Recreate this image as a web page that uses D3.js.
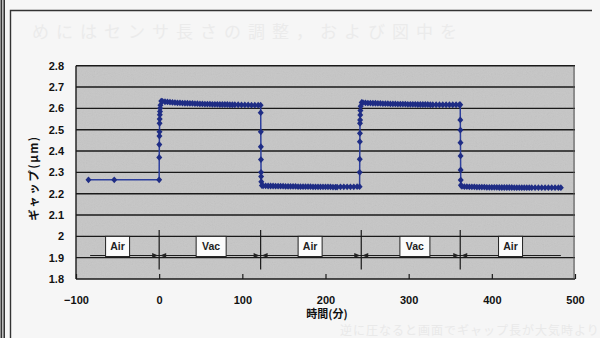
<!DOCTYPE html>
<html>
<head>
<meta charset="utf-8">
<script src="https://cdn.jsdelivr.net/npm/d3@7"></script>
<style>
  body { margin: 0; background: #f6f6f6; }
  svg { display: block; }
  .tick text { font-family: "Liberation Sans", Arial, sans-serif; font-weight: bold; font-size: 11px; fill: #111; }
</style>
</head>
<body>
<div id="chart"></div>
<script>
const width = 600;
const height = 338;

// time (min) and gap (um), one pair of arrays per phase
const airT0 = [-85, -54, 0];
const airG0 = [2.265, 2.265, 2.265];

const vacT1 = [0.1, 0.2, 0.3, 0.4, 0.5, 0.6, 0.8, 1, 1.2, 1.5, 2.5, 4, 7, 10, 13, 16, 19, 22, 25, 28, 31, 34, 37, 40, 43, 46, 49, 52, 55, 58, 61, 64, 67, 70, 73, 76, 79, 82, 85, 88, 91, 95, 99, 103, 107, 111, 115, 119, 122];
const vacG1 = [2.37, 2.43, 2.47, 2.49, 2.53, 2.55, 2.57, 2.585, 2.60, 2.615, 2.634, 2.633, 2.631, 2.630, 2.629, 2.628, 2.627, 2.626, 2.626, 2.625, 2.624, 2.624, 2.623, 2.623, 2.622, 2.622, 2.621, 2.621, 2.620, 2.620, 2.620, 2.619, 2.619, 2.619, 2.618, 2.618, 2.618, 2.618, 2.617, 2.617, 2.617, 2.617, 2.616, 2.616, 2.616, 2.615, 2.615, 2.615, 2.615];

const airT2 = [122.1, 122.2, 122.3, 122.4, 122.5, 122.6, 122.8, 123.5, 125, 128, 131, 134, 137, 140, 143, 146, 149, 152, 155, 158, 161, 164, 167, 170, 173, 176, 179, 182, 185, 188, 191, 194, 197, 200, 203, 206, 209, 212, 214, 218, 222, 226, 230, 234, 238, 241];
const airG2 = [2.58, 2.49, 2.42, 2.36, 2.30, 2.28, 2.256, 2.238, 2.237, 2.237, 2.236, 2.236, 2.236, 2.235, 2.235, 2.235, 2.235, 2.234, 2.234, 2.234, 2.234, 2.234, 2.233, 2.233, 2.233, 2.233, 2.233, 2.233, 2.232, 2.232, 2.232, 2.232, 2.232, 2.232, 2.232, 2.232, 2.231, 2.231, 2.231, 2.232, 2.232, 2.232, 2.232, 2.232, 2.233, 2.233];

const vacT3 = [241.1, 241.2, 241.3, 241.4, 241.5, 241.6, 241.8, 242, 242.3, 243.5, 245, 248, 251, 254, 257, 260, 263, 266, 269, 272, 275, 278, 281, 284, 287, 290, 293, 296, 299, 302, 305, 308, 311, 314, 317, 320, 323, 326, 329, 333, 337, 341, 345, 349, 353, 357, 361, 362];
const vacG3 = [2.30, 2.362, 2.444, 2.483, 2.53, 2.546, 2.569, 2.59, 2.61, 2.628, 2.627, 2.626, 2.625, 2.625, 2.624, 2.624, 2.623, 2.623, 2.622, 2.622, 2.622, 2.621, 2.621, 2.621, 2.620, 2.620, 2.620, 2.620, 2.619, 2.619, 2.619, 2.619, 2.618, 2.618, 2.618, 2.618, 2.618, 2.617, 2.617, 2.617, 2.617, 2.617, 2.617, 2.617, 2.617, 2.617, 2.617, 2.617];

const airT4 = [362.1, 362.2, 362.3, 362.4, 362.5, 362.6, 362.8, 364, 367, 370, 373, 376, 379, 382, 385, 388, 391, 394, 397, 400, 403, 406, 409, 412, 415, 418, 421, 424, 427, 430, 433, 436, 439, 442, 445, 448, 452, 456, 460, 464, 468, 472, 476, 480, 483];
const airG4 = [2.546, 2.498, 2.439, 2.377, 2.311, 2.264, 2.24, 2.234, 2.233, 2.233, 2.232, 2.232, 2.232, 2.231, 2.231, 2.231, 2.231, 2.230, 2.230, 2.230, 2.230, 2.230, 2.229, 2.229, 2.229, 2.229, 2.229, 2.229, 2.228, 2.228, 2.228, 2.228, 2.228, 2.228, 2.228, 2.228, 2.228, 2.228, 2.228, 2.228, 2.228, 2.228, 2.228, 2.228, 2.228];

// phase annotation along the bottom
const phaseLabels = ["Air", "Vac", "Air", "Vac", "Air"];
const phaseCenters = [-50, 62.5, 181.5, 307.5, 422.5];
const switchTimes = [0, 122, 243, 362];
const phaseSpan = [-83, 483];

const xTicks = [-100, 0, 100, 200, 300, 400, 500];
const yTicks = [1.8, 1.9, 2.0, 2.1, 2.2, 2.3, 2.4, 2.5, 2.6, 2.7, 2.8];

const series = [
  [airT0, airG0], [vacT1, vacG1], [airT2, airG2], [vacT3, vacG3], [airT4, airG4]
].flatMap(([ts, gs]) => ts.map((t, i) => ({ t: t, g: gs[i] })));

const svg = d3.select("#chart").append("svg")
    .attr("width", width)
    .attr("height", height);

const x = d3.scaleLinear().domain([-100, 500]).range([76, 575]);
const y = d3.scaleLinear().domain([1.8, 2.8]).range([279, 65.7]);

// page frame of the scanned sheet
svg.append("rect").attr("x", 0.5).attr("y", 0).attr("width", 1.8).attr("height", height).attr("fill", "#333");
svg.append("rect").attr("x", 3.4).attr("y", 0).attr("width", 1.6).attr("height", height).attr("fill", "#333");
svg.append("path").attr("d", "M10.5,338V10.5H592")
    .attr("fill", "none").attr("stroke", "#333").attr("stroke-width", 1.4);

// faint show-through text from the other side of the page
svg.append("text").attr("x", 32).attr("y", 38)
    .attr("font-family", "Noto Sans CJK JP").attr("font-size", 17)
    .attr("letter-spacing", 7).attr("fill", "#ebebeb")
    .text("めにはセンサ長さの調整，および図中を");
svg.append("text").attr("x", 340).attr("y", 335)
    .attr("font-family", "Noto Sans CJK JP").attr("font-size", 12)
    .attr("letter-spacing", 1).attr("fill", "#e9e9e9")
    .text("逆に圧なると画面でギャップ長が大気時より");

// noisy grey plot background
const defs = svg.append("defs");
const f = defs.append("filter").attr("id", "grain").attr("x", 0).attr("y", 0).attr("width", 1).attr("height", 1);
f.append("feTurbulence").attr("type", "fractalNoise").attr("baseFrequency", 0.9).attr("numOctaves", 2).attr("seed", 3);
f.append("feColorMatrix").attr("type", "saturate").attr("values", 0);

svg.append("rect")
    .attr("x", x(-100)).attr("y", y(2.8))
    .attr("width", x(500) - x(-100)).attr("height", y(1.8) - y(2.8))
    .attr("fill", "#c6c6c6");
svg.append("rect")
    .attr("x", x(-100)).attr("y", y(2.8))
    .attr("width", x(500) - x(-100)).attr("height", y(1.8) - y(2.8))
    .attr("filter", "url(#grain)").attr("opacity", 0.12);

// gridlines
svg.append("g").selectAll("line").data(yTicks).join("line")
    .attr("x1", x(-100)).attr("x2", x(500))
    .attr("y1", d => y(d)).attr("y2", d => y(d))
    .attr("stroke", "#1a1a1a").attr("stroke-width", 1.4);

svg.append("line")
    .attr("x1", x(-100)).attr("x2", x(-100)).attr("y1", y(2.8)).attr("y2", y(1.8))
    .attr("stroke", "#1a1a1a").attr("stroke-width", 1.4);
svg.append("line")
    .attr("x1", x(500) - 1).attr("x2", x(500) - 1).attr("y1", y(2.8)).attr("y2", y(1.8))
    .attr("stroke", "#555").attr("stroke-width", 1);

// axes
const xAxis = svg.append("g")
    .attr("transform", `translate(0,${y(1.8)})`)
    .call(d3.axisBottom(x).tickValues(xTicks).tickSize(-5).tickPadding(17).tickFormat(d3.format("d")));
xAxis.select(".domain").remove();
xAxis.selectAll(".tick line").attr("stroke", "#1a1a1a").attr("stroke-width", 1.2);

const yAxis = svg.append("g")
    .attr("transform", `translate(${x(-100)},0)`)
    .call(d3.axisLeft(y).tickValues(yTicks).tickSize(0).tickPadding(12).tickFormat(d3.format("~g")));
yAxis.select(".domain").remove();

// axis titles
svg.append("text")
    .attr("x", 327).attr("y", 318)
    .attr("text-anchor", "middle")
    .attr("font-family", "Noto Sans CJK JP").attr("font-weight", "bold").attr("font-size", 11)
    .attr("fill", "#111")
    .text("時間(分)");

svg.append("text")
    .attr("transform", "translate(38,178) rotate(-90)")
    .attr("text-anchor", "middle")
    .attr("font-family", "Noto Sans CJK JP").attr("font-weight", "bold").attr("font-size", 11.5)
    .attr("letter-spacing", 1.5)
    .attr("fill", "#111")
    .text("ギャップ(μm)");

// phase annotation: baseline, switch markers, arrowheads, labels
const ann = svg.append("g");
ann.append("line")
    .attr("x1", x(phaseSpan[0])).attr("x2", x(phaseSpan[1]))
    .attr("y1", y(1.91)).attr("y2", y(1.91))
    .attr("stroke", "#1a1a1a").attr("stroke-width", 1);

ann.selectAll(".sw").data(switchTimes).join("line")
    .attr("class", "sw")
    .attr("x1", d => x(d)).attr("x2", d => x(d))
    .attr("y1", y(2.03)).attr("y2", y(1.845))
    .attr("stroke", "#1a1a1a").attr("stroke-width", 1.2);

ann.selectAll(".arL").data(switchTimes).join("path")
    .attr("class", "arL")
    .attr("d", d => `M${x(d) - 1},${y(1.91)}l-6,-2.5v5z`)
    .attr("fill", "#222");
ann.selectAll(".arR").data(switchTimes).join("path")
    .attr("class", "arR")
    .attr("d", d => `M${x(d) + 1},${y(1.91)}l6,-2.5v5z`)
    .attr("fill", "#222");

const boxes = ann.selectAll(".box").data(phaseLabels).join("g")
    .attr("class", "box")
    .attr("transform", (d, i) => `translate(${x(phaseCenters[i])},0)`);
boxes.append("rect")
    .attr("x", d => d === "Vac" ? -15 : -12)
    .attr("width", d => d === "Vac" ? 30 : 24)
    .attr("y", y(2.0)).attr("height", y(1.91) - y(2.0) + 1)
    .attr("fill", "#fbfbfb").attr("stroke", "#222").attr("stroke-width", 1);
boxes.append("text")
    .attr("y", y(1.955) + 4)
    .attr("text-anchor", "middle")
    .attr("font-family", "Liberation Sans, Arial, sans-serif").attr("font-weight", "bold").attr("font-size", 10.5)
    .attr("fill", "#222")
    .text(d => d);

// data line and diamond markers
const line = d3.line().x(d => x(d.t)).y(d => y(d.g));
svg.append("path")
    .datum(series)
    .attr("d", line)
    .attr("fill", "none")
    .attr("stroke", "#2d3f9e")
    .attr("stroke-width", 1.5);

svg.append("g").selectAll("path").data(series).join("path")
    .attr("d", "M0,-3.4L3,0L0,3.4L-3,0Z")
    .attr("transform", d => `translate(${x(d.t)},${y(d.g)})`)
    .attr("fill", "#1f2d85");
</script>
</body>
</html>
